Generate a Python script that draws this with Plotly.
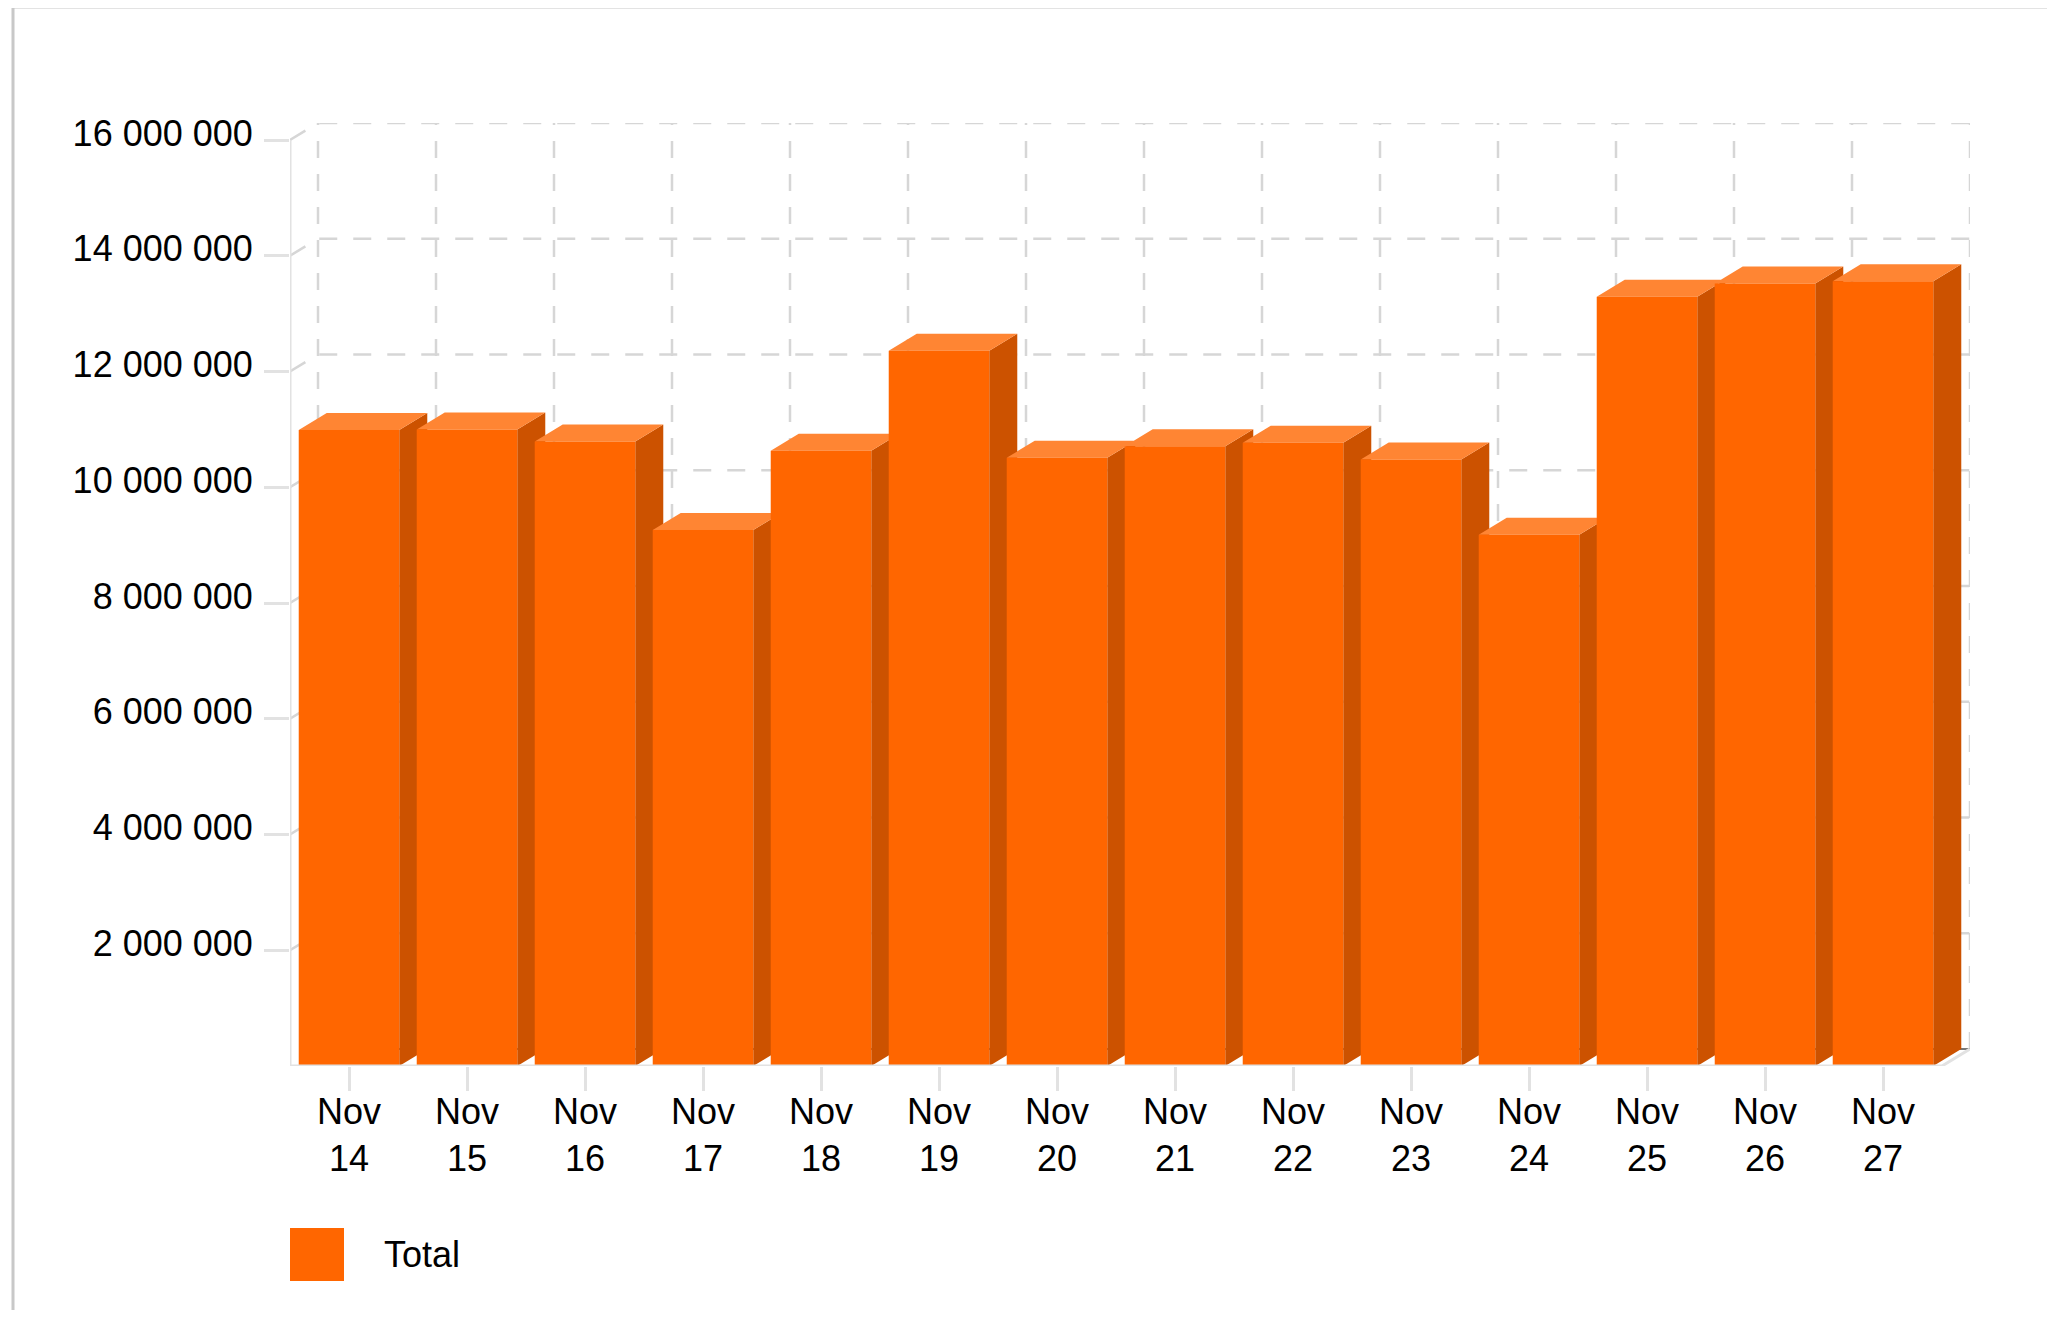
import plotly.graph_objects as go

# ---------------- data ----------------
categories = ["Nov 14", "Nov 15", "Nov 16", "Nov 17", "Nov 18", "Nov 19", "Nov 20",
              "Nov 21", "Nov 22", "Nov 23", "Nov 24", "Nov 25", "Nov 26", "Nov 27"]
tick_labels = ["Nov<br>14", "Nov<br>15", "Nov<br>16", "Nov<br>17", "Nov<br>18", "Nov<br>19",
               "Nov<br>20", "Nov<br>21", "Nov<br>22", "Nov<br>23", "Nov<br>24", "Nov<br>25",
               "Nov<br>26", "Nov<br>27"]
totals = [10990000, 11000000, 10790000, 9260000, 10630000, 12360000, 10510000,
          10710000, 10770000, 10480000, 9180000, 13290000, 13520000, 13560000]
y_tickvals = [2000000, 4000000, 6000000, 8000000, 10000000, 12000000, 14000000, 16000000]
y_ticktext = ["2 000 000", "4 000 000", "6 000 000", "8 000 000", "10 000 000",
              "12 000 000", "14 000 000", "16 000 000"]
series_name = "Total"

# ---------------- layout constants (pixels of the page) ----------------
OFF = 8                      # default body margin of the html page
PAGE_W, PAGE_H = 2055, 1318
W, H = PAGE_W - 2 * OFF, PAGE_H - 2 * OFF
FRONT_L = 290                # front y axis
CAT_W = 118.0                # category width
DXP, DYP = 28, 17            # 3D depth offset
ZERO_Y, TOP_Y = 1066, 140    # pixel rows of 0 and of the top tick

n = len(categories)
front_R = FRONT_L + n * CAT_W
plot_l = FRONT_L - OFF
plot_r = front_R + DXP - OFF
plot_t = TOP_Y - DYP - OFF
plot_b = ZERO_Y - OFF
ymax = y_tickvals[-1]
px_per_val = (ZERO_Y - TOP_Y) / ymax
DXC = DXP / CAT_W
DYV = DYP / px_per_val
BW = 0.426                   # half bar width in category units

FRONT_C = "#ff6600"
SIDE_C = "#cc5200"
TOP_C = "#ff8533"
GRID_C = "#d6d6d6"
AXIS_C = "#e2e2e2"
FONT = "Liberation Sans, Arial, sans-serif"
FS = 36


def px_x(p):
    return (p - OFF - plot_l) / (plot_r - plot_l)


def px_y(p):
    return 1 - (p - OFF - plot_t) / (plot_b - plot_t)


fig = go.Figure()

# back-wall horizontal gridlines (with the diagonal from the front axis)
gx, gy = [], []
for v in y_tickvals:
    gx += [-0.5, -0.5 + DXC, n - 0.5 + DXC, None]
    gy += [v, v + DYV, v + DYV, None]
fig.add_trace(go.Scatter(x=gx, y=gy, mode="lines", cliponaxis=False, hoverinfo="skip",
                         line=dict(color=GRID_C, width=2.5, dash="18px,16px"), showlegend=False))

# back-wall vertical gridlines at category boundaries
vx, vy = [], []
for k in range(n + 1):
    vx += [k - 0.5 + DXC, k - 0.5 + DXC, None]
    vy += [DYV, ymax + DYV, None]
fig.add_trace(go.Scatter(x=vx, y=vy, mode="lines", cliponaxis=False, hoverinfo="skip",
                         line=dict(color=GRID_C, width=2.5, dash="17px,16px"), showlegend=False))

# back floor line
fig.add_trace(go.Scatter(x=[-0.5 + DXC, n - 0.5 + DXC], y=[DYV, DYV], mode="lines",
                         cliponaxis=False, hoverinfo="skip",
                         line=dict(color="#777777", width=2), showlegend=False))

# 3D bars: sides, tops, fronts
sx, sy, tx, ty, fx, fy = [], [], [], [], [], []
for i, v in enumerate(totals):
    xl, xr = i - BW, i + BW
    sx += [xr, xr + DXC, xr + DXC, xr, xr, None]
    sy += [0, DYV, v + DYV, v, 0, None]
    tx += [xl, xr, xr + DXC, xl + DXC, xl, None]
    ty += [v, v, v + DYV, v + DYV, v, None]
    fx += [xl, xr, xr, xl, xl, None]
    fy += [0, 0, v, v, 0, None]
fig.add_trace(go.Scatter(x=sx, y=sy, mode="lines", fill="toself", fillcolor=SIDE_C,
                         line=dict(width=0, color=SIDE_C), hoverinfo="skip", showlegend=False))
fig.add_trace(go.Scatter(x=tx, y=ty, mode="lines", fill="toself", fillcolor=TOP_C,
                         line=dict(width=0, color=TOP_C), hoverinfo="skip", showlegend=False))
fig.add_trace(go.Scatter(x=fx, y=fy, mode="lines", fill="toself", fillcolor=FRONT_C,
                         line=dict(width=0, color=FRONT_C), name=series_name,
                         text=[c for c in categories for _ in range(6)],
                         hoverinfo="text", showlegend=False))

# front axis line and floor edge
fig.add_trace(go.Scatter(x=[-0.5, -0.5, None, -0.5, n - 0.5, n - 0.5 + DXC],
                         y=[ymax, 0, None, 0, 0, DYV], mode="lines", cliponaxis=False,
                         hoverinfo="skip", line=dict(color=AXIS_C, width=3), showlegend=False))

# frame and custom legend (large swatch)
shapes = [
    dict(type="rect", xref="paper", yref="paper",
         x0=px_x(13), x1=px_x(PAGE_W + 20), y0=px_y(7), y1=px_y(PAGE_H + 20),
         line=dict(color="#c8c8c8", width=3), fillcolor="rgba(0,0,0,0)", layer="below"),
    dict(type="rect", xref="paper", yref="paper",
         x0=px_x(290), x1=px_x(344), y0=px_y(1228), y1=px_y(1281),
         line=dict(width=0), fillcolor=FRONT_C),
]
annotations = [
    dict(text=series_name, xref="paper", yref="paper", x=px_x(382), y=px_y(1254),
         xanchor="left", yanchor="middle", showarrow=False,
         font=dict(family=FONT, size=FS, color="#000000")),
]

fig.update_layout(
    width=W, height=H,
    margin=dict(l=plot_l, r=W - plot_r, t=plot_t, b=H - plot_b, pad=0),
    paper_bgcolor="white", plot_bgcolor="white",
    font=dict(family=FONT, size=FS, color="#000000"),
    showlegend=False,
    shapes=shapes, annotations=annotations,
    xaxis=dict(range=[-0.5, n - 0.5 + DXC], tickmode="array",
               tickvals=list(range(n)), ticktext=tick_labels,
               ticks="outside", ticklen=24, tickwidth=3, tickcolor=AXIS_C,
               showgrid=False, zeroline=False, showline=False, fixedrange=True,
               ticklabelstandoff=-10),
    yaxis=dict(range=[0, ymax + DYV], tickmode="array",
               tickvals=y_tickvals, ticktext=y_ticktext,
               ticks="outside", ticklen=25, tickwidth=2.5, tickcolor=AXIS_C,
               showgrid=False, zeroline=False, showline=False, fixedrange=True,
               ticklabelstandoff=4, ticklabelshift=-7),
)

fig.write_html("out.html")
